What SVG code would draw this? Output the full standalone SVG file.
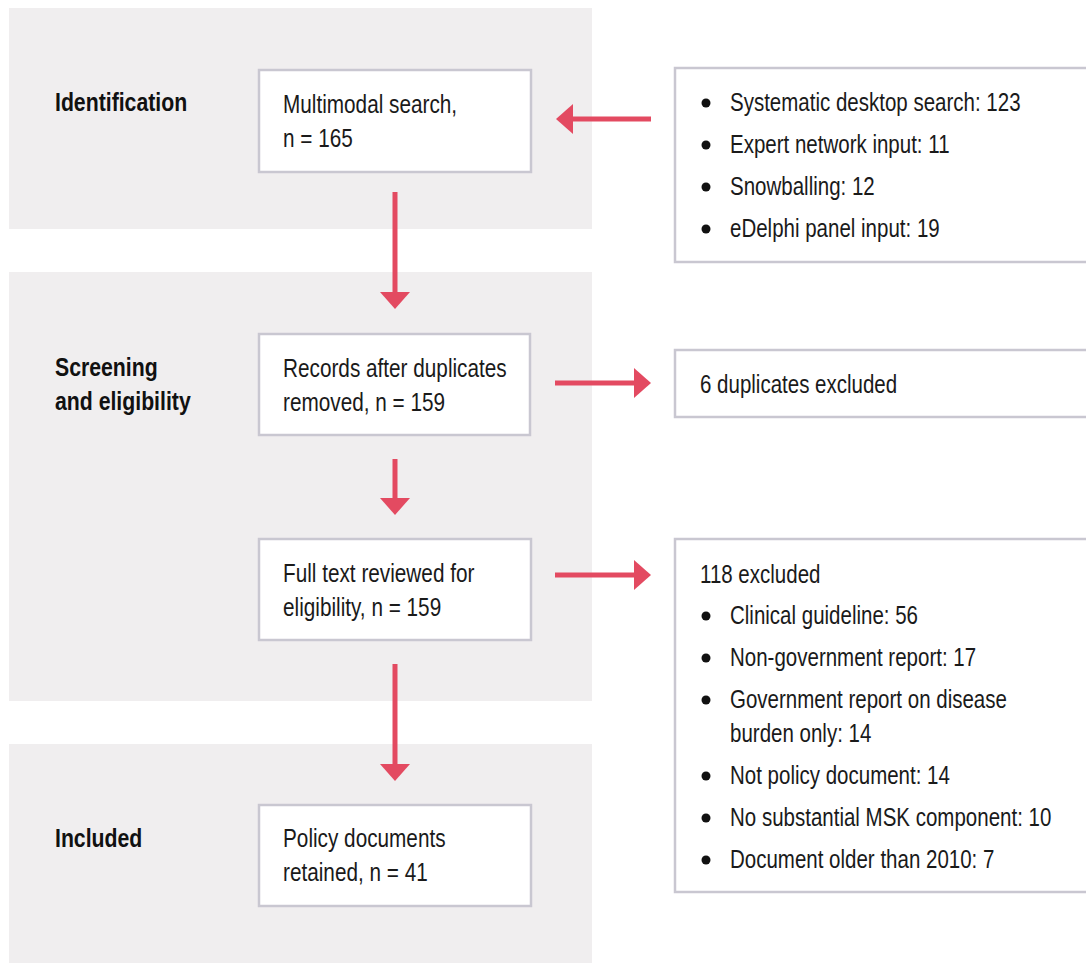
<svg xmlns="http://www.w3.org/2000/svg" width="1086" height="963" viewBox="0 0 1086 963">
<style>
.band{fill:#f0eeef;}
.box{fill:#ffffff;stroke:#c9c7d1;stroke-width:2.5;}
.t{font-family:"Liberation Sans",Arial,sans-serif;font-size:25px;fill:#1a1a1a;}
.b{font-family:"Liberation Sans",Arial,sans-serif;font-size:25px;font-weight:bold;fill:#111111;}
.dot{fill:#111111;}
.arr{stroke:#e34a61;stroke-width:5;fill:none;marker-end:url(#ah);}
</style>
<defs>
<marker id="ah" markerUnits="userSpaceOnUse" markerWidth="17" markerHeight="30" refX="0" refY="15" orient="auto">
<path d="M0,0 L17,15 L0,30 Z" fill="#e34a61"/>
</marker>
</defs>
<rect fill="#ffffff" x="0" y="0" width="1086" height="963"/>
<g id="bands">
<rect class="band" x="9" y="8" width="583" height="221"/>
<rect class="band" x="9" y="272" width="583" height="429"/>
<rect class="band" x="9" y="744" width="583" height="219"/>
</g>
<g id="labels">
<text class="b" transform="translate(55,111) scale(0.85,1)">Identification</text>
<text class="b" transform="translate(55,376) scale(0.85,1)">Screening</text>
<text class="b" transform="translate(55,410) scale(0.85,1)">and eligibility</text>
<text class="b" transform="translate(55,847) scale(0.85,1)">Included</text>
</g>
<g id="connectors">
<line class="arr" x1="651" y1="119" x2="573" y2="119"/>
<line class="arr" x1="395" y1="192" x2="395" y2="292"/>
<line class="arr" x1="555" y1="383" x2="634" y2="383"/>
<line class="arr" x1="395" y1="459" x2="395" y2="498"/>
<line class="arr" x1="555" y1="575" x2="634" y2="575"/>
<line class="arr" x1="395" y1="664" x2="395" y2="764"/>
</g>
<g id="n-search">
<rect class="box" x="259" y="70" width="272" height="102"/>
<text class="t" transform="translate(283,113) scale(0.83,1)">Multimodal search,</text>
<text class="t" transform="translate(283,147) scale(0.83,1)">n = 165</text>
</g>
<g id="n-sources">
<rect class="box" x="675" y="68" width="430" height="194"/>
<circle class="dot" cx="706" cy="103" r="4.5"/>
<text class="t" transform="translate(730,111) scale(0.82,1)">Systematic desktop search: 123</text>
<circle class="dot" cx="706" cy="145" r="4.5"/>
<text class="t" transform="translate(730,153) scale(0.82,1)">Expert network input: 11</text>
<circle class="dot" cx="706" cy="187" r="4.5"/>
<text class="t" transform="translate(730,195) scale(0.82,1)">Snowballing: 12</text>
<circle class="dot" cx="706" cy="229" r="4.5"/>
<text class="t" transform="translate(730,237) scale(0.82,1)">eDelphi panel input: 19</text>
</g>
<g id="n-dedup">
<rect class="box" x="259" y="334" width="271" height="101"/>
<text class="t" transform="translate(283,377) scale(0.83,1)">Records after duplicates</text>
<text class="t" transform="translate(283,411) scale(0.83,1)">removed, n = 159</text>
</g>
<g id="n-dup-excluded">
<rect class="box" x="675" y="350" width="430" height="67"/>
<text class="t" transform="translate(700,393) scale(0.82,1)">6 duplicates excluded</text>
</g>
<g id="n-fulltext">
<rect class="box" x="259" y="539" width="272" height="101"/>
<text class="t" transform="translate(283,582) scale(0.83,1)">Full text reviewed for</text>
<text class="t" transform="translate(283,616) scale(0.83,1)">eligibility, n = 159</text>
</g>
<g id="n-excluded">
<rect class="box" x="675" y="539" width="430" height="353"/>
<text class="t" transform="translate(700,583) scale(0.82,1)">118 excluded</text>
<circle class="dot" cx="706" cy="616" r="4.5"/>
<text class="t" transform="translate(730,624) scale(0.82,1)">Clinical guideline: 56</text>
<circle class="dot" cx="706" cy="658" r="4.5"/>
<text class="t" transform="translate(730,666) scale(0.82,1)">Non-government report: 17</text>
<circle class="dot" cx="706" cy="700" r="4.5"/>
<text class="t" transform="translate(730,708) scale(0.82,1)">Government report on disease</text>
<text class="t" transform="translate(730,742) scale(0.82,1)">burden only: 14</text>
<circle class="dot" cx="706" cy="776" r="4.5"/>
<text class="t" transform="translate(730,784) scale(0.82,1)">Not policy document: 14</text>
<circle class="dot" cx="706" cy="818" r="4.5"/>
<text class="t" transform="translate(730,826) scale(0.82,1)">No substantial MSK component: 10</text>
<circle class="dot" cx="706" cy="860" r="4.5"/>
<text class="t" transform="translate(730,868) scale(0.82,1)">Document older than 2010: 7</text>
</g>
<g id="n-included">
<rect class="box" x="259" y="805" width="272" height="101"/>
<text class="t" transform="translate(283,847) scale(0.83,1)">Policy documents</text>
<text class="t" transform="translate(283,881) scale(0.83,1)">retained, n = 41</text>
</g>
</svg>
